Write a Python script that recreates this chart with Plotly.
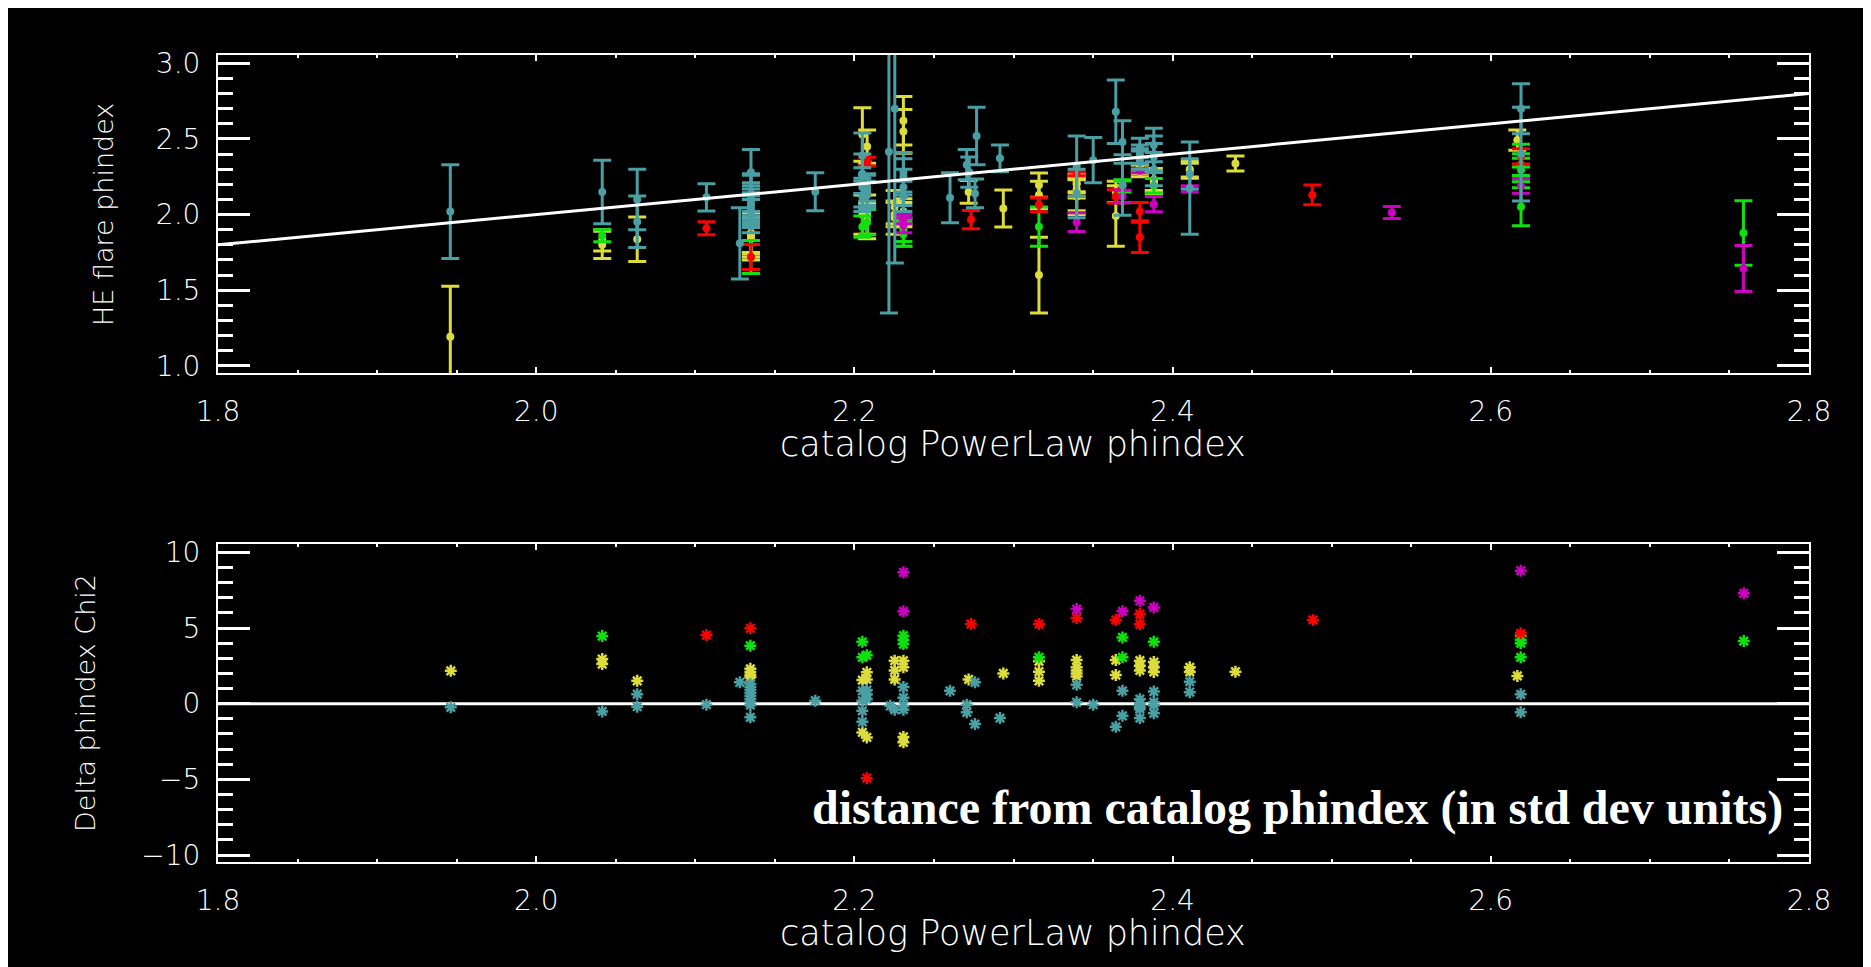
import plotly.graph_objects as go

# ---------------- data ----------------
# top panel: catalog phindex (x), HE flare phindex (y) and 1-sigma error
teal_x = [1.946, 2.0415, 2.0635, 2.0635, 2.107, 2.128, 2.135, 2.135, 2.135, 2.135, 2.135, 2.135,
          2.135, 2.135, 2.135, 2.1754, 2.205, 2.205, 2.205, 2.205, 2.208, 2.208, 2.208, 2.2217,
          2.2254, 2.2308, 2.2308, 2.2308, 2.2308, 2.2601, 2.2706, 2.2722, 2.2758, 2.2768, 2.2915,
          2.3397, 2.3397, 2.3501, 2.3643, 2.3685, 2.3685, 2.3794, 2.3794, 2.3794, 2.3794, 2.3882,
          2.3882, 2.3882, 2.3882, 2.4108, 2.4108, 2.619, 2.619]
teal_y = [2.02, 2.15, 2.10, 1.953, 2.114, 1.81, 2.28, 2.14, 2.10, 2.08, 2.06, 2.04,
          2.02, 1.99, 2.12, 2.151, 2.12, 2.18, 2.27, 2.39, 2.13, 2.16, 2.18, 2.415,
          2.70, 2.12, 2.18, 2.25, 2.28, 2.111, 2.33, 2.28, 2.14, 2.52, 2.372,
          2.32, 2.14, 2.36, 2.68, 2.48, 2.195, 2.36, 2.385, 2.40, 2.44, 2.46,
          2.38, 2.40, 2.30, 2.175, 2.27, 2.70, 2.40]
teal_err = [0.31, 0.21, 0.20, 0.17, 0.09, 0.235, 0.15, 0.12, 0.11, 0.11, 0.11, 0.105,
            0.105, 0.11, 0.15, 0.125, 0.10, 0.13, 0.13, 0.15, 0.09, 0.10, 0.09, 1.065,
            1.02, 0.10, 0.12, 0.12, 0.13, 0.165, 0.10, 0.10, 0.095, 0.19, 0.088,
            0.20, 0.16, 0.15, 0.21, 0.14, 0.20, 0.06, 0.05, 0.06, 0.065, 0.11,
            0.09, 0.12, 0.11, 0.305, 0.10, 0.165, 0.31]

yellow_x = [1.946, 2.0415, 2.0415, 2.0635, 2.135, 2.135, 2.135, 2.135, 2.205, 2.205, 2.208, 2.208,
            2.208, 2.2253, 2.2253, 2.2253, 2.2308, 2.2308, 2.2308, 2.2308, 2.2718, 2.2936, 2.316,
            2.316, 2.316, 2.3397, 2.3397, 2.3397, 2.3397, 2.3397, 2.3643, 2.3643, 2.3794, 2.3794,
            2.3794, 2.3882, 2.3882, 2.3882, 2.4108, 2.4108, 2.4395, 2.6167]
yellow_y = [1.192, 1.83, 1.80, 1.837, 1.86, 1.84, 1.88, 1.87, 2.53, 2.00, 1.96, 2.00,
            2.45, 2.00, 1.98, 2.05, 2.62, 2.55, 2.00, 2.02, 2.15, 2.04, 1.60,
            2.195, 2.13, 2.17, 2.20, 2.21, 2.13, 2.12, 2.15, 1.99, 2.30, 2.31,
            2.29, 2.22, 2.21, 2.23, 2.29, 2.30, 2.338, 2.492]
yellow_err = [0.335, 0.07, 0.09, 0.147, 0.12, 0.14, 0.13, 0.15, 0.177, 0.13, 0.12, 0.13,
              0.11, 0.08, 0.11, 0.11, 0.16, 0.145, 0.08, 0.085, 0.075, 0.122, 0.25,
              0.08, 0.09, 0.06, 0.058, 0.059, 0.105, 0.12, 0.07, 0.20, 0.028, 0.028,
              0.04, 0.061, 0.074, 0.075, 0.05, 0.052, 0.049, 0.067]

green_x = [2.0415, 2.135, 2.205, 2.208, 2.2308, 2.2308, 2.2308, 2.316, 2.3685, 2.3685, 2.3882,
           2.619, 2.619, 2.619, 2.619, 2.7588]
green_y = [1.86, 1.72, 1.92, 1.95, 1.87, 1.90, 1.88, 1.92, 2.19, 2.15, 2.19,
           2.052, 2.295, 2.39, 2.33, 1.879]
green_err = [0.04, 0.109, 0.07, 0.083, 0.08, 0.078, 0.09, 0.13, 0.041, 0.072, 0.048,
             0.126, 0.078, 0.075, 0.072, 0.213]

red_x = [2.107, 2.135, 2.208, 2.2733, 2.316, 2.3397, 2.3643, 2.3794, 2.3794, 2.4878, 2.619]
red_y = [1.91, 1.72, 2.35, 1.967, 2.065, 2.27, 2.12, 2.02, 1.85, 2.13, 2.385]
red_err = [0.043, 0.083, 0.029, 0.06, 0.046, 0.0125, 0.044, 0.06, 0.10, 0.065, 0.05]

magenta_x = [2.2308, 2.2308, 2.3397, 2.3685, 2.3794, 2.3882, 2.4108, 2.5378, 2.619, 2.7588]
magenta_y = [1.97, 1.93, 1.95, 2.12, 2.29, 2.069, 2.17, 2.014, 2.19, 1.644]
magenta_err = [0.03, 0.05, 0.062, 0.041, 0.013, 0.05, 0.02, 0.04, 0.049, 0.152]

# reference line (catalog = HE)
line_x = [1.8, 2.8]
line_y = [1.8, 2.8]

# bottom panel: distance from catalog phindex, in std dev units
teal_dx = [1.9463, 2.0415, 2.0635, 2.0635, 2.107, 2.128] + [2.1346] * 9 + [2.1754] + [2.205] * 4 + \
          [2.2078] * 3 + [2.2225, 2.2253] + [2.2308] * 4 + [2.2601, 2.2706, 2.2706, 2.2758, 2.2758,
          2.2915, 2.3397, 2.3397, 2.3501, 2.3643, 2.3685, 2.3685] + [2.3794] * 5 + [2.3882] * 4 + \
          [2.4108, 2.4108, 2.6188, 2.6188]
teal_d = [-0.24, -0.51, 0.63, -0.2, -0.07, 1.41, 1.3, 1.1, 0.9, 0.7, 0.5, 0.3, 0.1, -0.1, -0.9, 0.2,
          0.85, 0.2, -0.47, -1.2, 0.9, 0.6, 0.3, -0.14, -0.4, 1.1, 0.4, -0.15, -0.4, 0.85, -0.07,
          -0.57, 1.41, -1.35, -0.95, 1.25, 0.09, -0.07, -1.53, 0.85, -0.8, 0.3, 0.0, -0.2, -0.35,
          -0.95, 0.8, 0.1, -0.1, -0.64, 1.45, 0.76, 0.62, -0.57]

yellow_dx = [1.9463, 2.0415, 2.0415, 2.0635] + [2.1346] * 4 + [2.205, 2.205] + [2.2078] * 3 + \
            [2.2253] * 3 + [2.2308] * 4 + [2.2718, 2.2936] + [2.316] * 3 + [2.3397] * 5 + \
            [2.3643] * 2 + [2.3794] * 3 + [2.3882] * 3 + [2.4108] * 2 + [2.4395, 2.6167]
yellow_d = [2.17, 2.95, 2.62, 1.51, 2.3, 2.1, 1.9, 1.75, 1.56, -1.9, 2.07, 1.6, -2.23,
            2.84, 2.2, 1.6, 2.84, 2.4, -2.2, -2.55, 1.6, 2.0, 2.8, 2.11, 1.51,
            2.88, 2.4, 2.2, 2.0, 1.8, 2.88, 1.89, 2.84, 2.5, 2.2, 2.75, 2.4, 2.1,
            2.4, 2.1, 2.11, 1.83]

green_dx = [2.0415, 2.1346, 2.205, 2.205, 2.2078, 2.2308, 2.2308, 2.2308, 2.316, 2.3685, 2.3685,
            2.3882, 2.6188, 2.6188, 2.6188, 2.6188, 2.759]
green_d = [4.47, 3.83, 4.09, 3.06, 3.2, 4.49, 4.2, 3.94, 3.06, 4.38, 3.06,
           4.09, 4.47, 4.2, 4.0, 3.06, 4.14]

red_dx = [2.107, 2.1346, 2.2078, 2.2733, 2.316, 2.3397, 2.3643, 2.3794, 2.3794, 2.4882, 2.6188]
red_d = [4.53, 4.98, -4.92, 5.26, 5.26, 5.66, 5.53, 5.92, 5.26, 5.53, 4.65]

magenta_dx = [2.2308, 2.2308, 2.3397, 2.3685, 2.3794, 2.3882, 2.6188, 2.759]
magenta_d = [8.68, 6.1, 6.25, 6.1, 6.8, 6.36, 8.79, 7.29]

zero_x = [1.8, 2.8]
zero_y = [0, 0]

# ---------------- styling ----------------
TEAL = '#4a9fa4'
YELLOW = '#dcdc3c'
GREEN = '#10e010'
RED = '#ff0000'
MAGENTA = '#cc00c0'

W, H = 1871, 967
OFF = 8  # the page's body margin shifts the whole figure by 8px right and down
L, R, T, B = 218 - OFF, 62 + OFF, 55 - OFF, 105 + OFF
PW, PH = W - L - R, H - T - B


def px(x):
    # screenshot column -> paper x
    return (x - OFF - L) / PW


def py(y):
    # screenshot row -> paper y
    return (H - B - (y - OFF)) / PH


LABEL_FONT = dict(family='DejaVu Sans', size=28, color='white', weight=200)

fig = go.Figure()

# top panel: error bars, drawn in the order IDL overplotted them
top_series = [
    (yellow_x, yellow_y, yellow_err, YELLOW),
    (green_x, green_y, green_err, GREEN),
    (red_x, red_y, red_err, RED),
    (magenta_x, magenta_y, magenta_err, MAGENTA),
    (teal_x, teal_y, teal_err, TEAL),
]
for xs, ys, es, col in top_series:
    fig.add_trace(go.Scatter(
        x=xs, y=ys, mode='markers', xaxis='x', yaxis='y',
        marker=dict(symbol='circle', size=8, color=col),
        error_y=dict(type='data', array=es, color=col, thickness=3, width=9),
        showlegend=False,
    ))

fig.add_trace(go.Scatter(x=line_x, y=line_y, mode='lines', xaxis='x', yaxis='y',
                         line=dict(color='white', width=3), showlegend=False))

# bottom panel
fig.add_trace(go.Scatter(x=zero_x, y=zero_y, mode='lines', xaxis='x2', yaxis='y2',
                         line=dict(color='white', width=3), showlegend=False))
bottom_series = [
    (yellow_dx, yellow_d, YELLOW),
    (green_dx, green_d, GREEN),
    (red_dx, red_d, RED),
    (magenta_dx, magenta_d, MAGENTA),
    (teal_dx, teal_d, TEAL),
]
for xs, ds, col in bottom_series:
    fig.add_trace(go.Scatter(
        x=xs, y=ds, mode='markers', xaxis='x2', yaxis='y2',
        marker=dict(symbol='asterisk-open', size=10, color=col, line=dict(color=col, width=2.5)),
        showlegend=False,
    ))

xaxis_style = dict(
    range=[1.8, 2.8], tick0=1.8, dtick=0.2, tickformat='.1f',
    ticks='inside', ticklen=6, tickwidth=2, tickcolor='white',
    minor=dict(dtick=0.05, ticks='inside', ticklen=3, tickwidth=2, tickcolor='white', showgrid=False),
    showline=True, linecolor='white', linewidth=2, mirror='allticks',
    showgrid=False, zeroline=False, tickfont=LABEL_FONT, ticklabelstandoff=12,
)
yaxis_style = dict(
    ticks='inside', ticklen=32, tickwidth=3, tickcolor='white',
    showline=True, linecolor='white', linewidth=2, mirror='allticks',
    showgrid=False, zeroline=False, tickfont=LABEL_FONT, ticklabelstandoff=10,
)

fig.update_layout(
    width=W, height=H,
    margin=dict(l=L, r=R, t=T, b=B),
    paper_bgcolor='black', plot_bgcolor='black',
    xaxis=dict(anchor='y', domain=[0, 1], **xaxis_style),
    yaxis=dict(anchor='x', domain=[py(373), 1], range=[0.953, 3.055], tick0=1.0, dtick=0.5,
               tickformat='.1f',
               minor=dict(dtick=0.1, ticks='inside', ticklen=15, tickwidth=3, tickcolor='white',
                          showgrid=False),
               **yaxis_style),
    xaxis2=dict(anchor='y2', domain=[0, 1], **xaxis_style),
    yaxis2=dict(anchor='x2', domain=[0, py(544)], range=[-10.46, 10.55], tick0=-10, dtick=5,
                minor=dict(dtick=1, ticks='inside', ticklen=15, tickwidth=3, tickcolor='white',
                           showgrid=False),
                **yaxis_style),
    showlegend=False,
)

XTITLE_FONT = dict(family='DejaVu Sans', size=35, color='white', weight=200)
YTITLE_FONT = dict(family='DejaVu Sans', size=27, color='white', weight=200)
annotations = [
    dict(text='catalog PowerLaw phindex', x=px(1013), y=py(444), xref='paper', yref='paper',
         showarrow=False, font=XTITLE_FONT, xanchor='center', yanchor='middle'),
    dict(text='catalog PowerLaw phindex', x=px(1013), y=py(933), xref='paper', yref='paper',
         showarrow=False, font=XTITLE_FONT, xanchor='center', yanchor='middle'),
    dict(text='HE flare phindex', x=px(104), y=py(214), xref='paper', yref='paper',
         showarrow=False, font=YTITLE_FONT, textangle=-90, xanchor='center', yanchor='middle'),
    dict(text='Delta phindex Chi2', x=px(85), y=py(703), xref='paper', yref='paper',
         showarrow=False, font=YTITLE_FONT, textangle=-90, xanchor='center', yanchor='middle'),
    dict(text='<b>distance from catalog phindex (in std dev units)</b>', x=px(1297), y=py(808),
         xref='paper', yref='paper', showarrow=False,
         font=dict(family='Liberation Serif', size=48, color='white'),
         xanchor='center', yanchor='middle'),
]
fig.update_layout(annotations=annotations)

fig.write_html("out.html")
